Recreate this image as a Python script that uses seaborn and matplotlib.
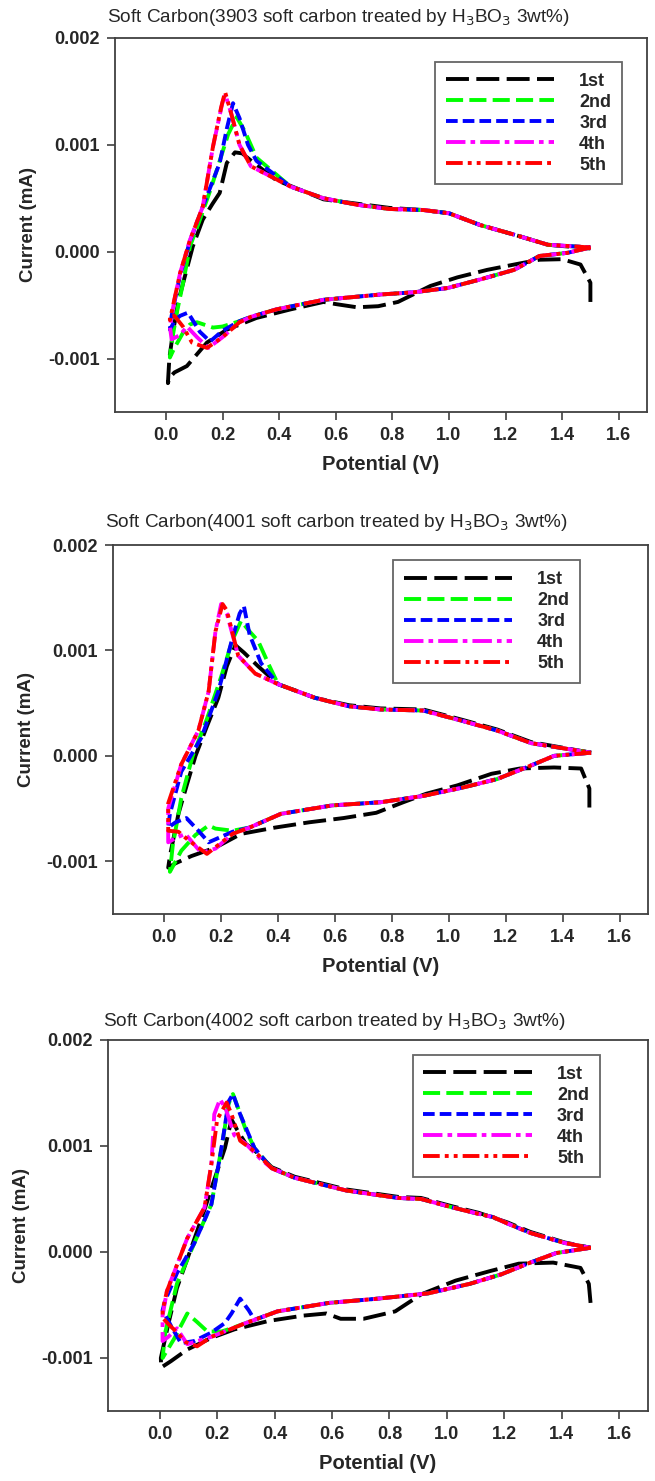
import matplotlib
matplotlib.use("Agg")
import matplotlib.pyplot as plt
import pandas as pd
import seaborn as sns

# potential (V) and current (x 1e-3 mA)
cycles = ["1st", "2nd", "3rd", "4th", "5th"]
samples = ["3903", "4001", "4002"]

# ---------- 3903 ----------
head_v_3903 = [1.50, 1.42, 1.32, 1.23, 1.11, 0.995, 0.875, 0.76, 0.557, 0.39, 0.30]
head_i_3903 = [0.04, -0.01, -0.04, -0.17, -0.26, -0.34, -0.38, -0.40, -0.45, -0.54, -0.61]
tail_v_3903 = [0.44, 0.557, 0.675, 0.79, 0.91, 1.0, 1.11, 1.23, 1.35, 1.50]
tail_i_3903 = [0.61, 0.50, 0.44, 0.40, 0.39, 0.36, 0.25, 0.16, 0.065, 0.04]
v_3903_1st = [1.50, 1.50, 1.465, 1.40, 1.32, 1.25, 1.135, 1.03, 0.935, 0.82, 0.75, 0.675, 0.60, 0.557,
              0.44, 0.32, 0.215, 0.145, 0.074, 0.03, 0.012, 0.007,
              0.012, 0.025, 0.045, 0.07, 0.095, 0.13, 0.165, 0.19, 0.215, 0.244, 0.27, 0.297, 0.39,
              0.557, 0.79, 0.91, 1.0, 1.11, 1.23, 1.35, 1.50]
i_3903_1st = [-0.47, -0.29, -0.12, -0.07, -0.075, -0.11, -0.17, -0.24, -0.32, -0.47, -0.51, -0.52, -0.49, -0.47,
              -0.54, -0.62, -0.73, -0.85, -1.07, -1.13, -1.18, -1.23,
              -1.0, -0.75, -0.45, -0.2, 0.05, 0.3, 0.45, 0.55, 0.83, 0.93, 0.92, 0.86, 0.67,
              0.49, 0.41, 0.39, 0.36, 0.25, 0.16, 0.065, 0.03]
low_v_3903_2nd = [0.26, 0.20, 0.166, 0.11, 0.085, 0.06, 0.03, 0.014,
                  0.02, 0.04, 0.06, 0.085, 0.12, 0.16, 0.19, 0.22, 0.25, 0.28, 0.32]
low_i_3903_2nd = [-0.65, -0.70, -0.71, -0.66, -0.68, -0.76, -0.90, -0.99,
                  -0.85, -0.55, -0.30, 0.05, 0.30, 0.60, 0.85, 1.10, 1.26, 1.12, 0.88]
low_v_3903_3rd = [0.26, 0.20, 0.156, 0.12, 0.078, 0.05, 0.032, 0.014,
                  0.02, 0.05, 0.085, 0.13, 0.19, 0.215, 0.237, 0.26, 0.29, 0.32]
low_i_3903_3rd = [-0.65, -0.74, -0.84, -0.75, -0.57, -0.60, -0.64, -0.73,
                  -0.60, -0.22, 0.10, 0.42, 0.83, 1.15, 1.39, 1.25, 1.00, 0.85]
low_v_3903_4th = [0.26, 0.20, 0.15, 0.11, 0.074, 0.05, 0.02,
                  0.014, 0.03, 0.05, 0.085, 0.13, 0.166, 0.20, 0.21, 0.23, 0.26, 0.30]
low_i_3903_4th = [-0.66, -0.80, -0.90, -0.80, -0.70, -0.78, -0.82,
                  -0.70, -0.45, -0.20, 0.11, 0.42, 0.98, 1.40, 1.47, 1.30, 1.00, 0.80]
low_v_3903_5th = [0.26, 0.20, 0.145, 0.092, 0.06, 0.03, 0.014,
                  0.014, 0.05, 0.085, 0.13, 0.166, 0.195, 0.209, 0.23, 0.26, 0.30]
low_i_3903_5th = [-0.66, -0.80, -0.90, -0.85, -0.70, -0.60, -0.60,
                  -0.64, -0.20, 0.11, 0.42, 0.98, 1.35, 1.495, 1.30, 1.00, 0.80]

# ---------- 4001 ----------
head_v_4001 = [1.50, 1.37, 1.29, 1.17, 1.05, 0.91, 0.76, 0.59, 0.41, 0.30]
head_i_4001 = [0.03, 0.0, -0.09, -0.22, -0.30, -0.38, -0.44, -0.47, -0.55, -0.68]
tail_v_4001 = [0.40, 0.53, 0.65, 0.76, 0.91, 1.05, 1.17, 1.29, 1.50]
tail_i_4001 = [0.68, 0.55, 0.47, 0.44, 0.43, 0.33, 0.24, 0.12, 0.03]
v_4001_1st = [1.494, 1.494, 1.465, 1.37, 1.25, 1.15, 1.03, 0.92, 0.84, 0.745, 0.63, 0.51, 0.39, 0.27,
              0.18, 0.096, 0.039, 0.014,
              0.02, 0.05, 0.08, 0.11, 0.15, 0.19, 0.22, 0.25, 0.28, 0.33, 0.40, 0.53, 0.65, 0.76,
              0.91, 1.05, 1.17, 1.29, 1.50]
i_4001_1st = [-0.49, -0.31, -0.12, -0.11, -0.12, -0.17, -0.28, -0.36, -0.44, -0.54, -0.59, -0.63, -0.68, -0.74,
              -0.87, -0.95, -1.02, -1.06,
              -0.95, -0.55, -0.27, 0.0, 0.28, 0.55, 0.85, 1.05, 0.98, 0.85, 0.68, 0.55, 0.48, 0.45,
              0.44, 0.34, 0.25, 0.13, 0.03]
low_v_4001_2nd = [0.24, 0.18, 0.156, 0.11, 0.06, 0.02,
                  0.03, 0.06, 0.10, 0.15, 0.20, 0.24, 0.27, 0.30, 0.33, 0.37]
low_i_4001_2nd = [-0.71, -0.69, -0.66, -0.75, -0.90, -1.10,
                  -0.85, -0.40, 0.0, 0.35, 0.75, 1.10, 1.28, 1.18, 1.09, 0.85]
low_v_4001_3rd = [0.24, 0.156, 0.12, 0.078, 0.04, 0.014,
                  0.02, 0.06, 0.13, 0.19, 0.237, 0.265, 0.28, 0.30, 0.34]
low_i_4001_3rd = [-0.72, -0.82, -0.71, -0.59, -0.63, -0.68,
                  -0.55, -0.15, 0.17, 0.61, 1.09, 1.35, 1.42, 1.15, 0.88]
low_v_4001_4th = [0.24, 0.18, 0.13, 0.074, 0.04, 0.014,
                  0.014, 0.06, 0.12, 0.156, 0.18, 0.20, 0.22, 0.26, 0.32]
low_i_4001_4th = [-0.74, -0.88, -0.92, -0.74, -0.78, -0.82,
                  -0.50, -0.08, 0.24, 0.61, 1.18, 1.44, 1.35, 0.95, 0.78]
low_v_4001_5th = [0.24, 0.15, 0.085, 0.05, 0.014,
                  0.014, 0.06, 0.12, 0.156, 0.18, 0.205, 0.22, 0.26, 0.32]
low_i_4001_5th = [-0.74, -0.93, -0.80, -0.72, -0.71,
                  -0.45, -0.08, 0.24, 0.61, 1.18, 1.44, 1.38, 0.95, 0.78]

# ---------- 4002 ----------
head_v_4002 = [1.50, 1.38, 1.29, 1.19, 1.08, 0.935, 0.76, 0.59, 0.41]
head_i_4002 = [0.04, -0.01, -0.10, -0.21, -0.30, -0.39, -0.44, -0.48, -0.56]
tail_v_4002 = [0.39, 0.47, 0.65, 0.83, 0.91, 1.02, 1.11, 1.16, 1.21, 1.29, 1.41, 1.50]
tail_i_4002 = [0.79, 0.70, 0.58, 0.51, 0.50, 0.42, 0.36, 0.33, 0.27, 0.18, 0.085, 0.04]
v_4002_1st = [1.50, 1.494, 1.465, 1.37, 1.25, 1.15, 1.03, 0.91, 0.82, 0.71, 0.63, 0.58, 0.50, 0.38,
              0.26, 0.18, 0.096, 0.039, 0.005,
              0.004, 0.03, 0.06, 0.11, 0.15, 0.18, 0.227, 0.25, 0.27, 0.30, 0.33, 0.39, 0.47, 0.65,
              0.83, 0.91, 1.02, 1.11, 1.21, 1.29, 1.41, 1.50]
i_4002_1st = [-0.48, -0.30, -0.15, -0.10, -0.11, -0.18, -0.27, -0.40, -0.56, -0.63, -0.63, -0.58, -0.60, -0.65,
              -0.73, -0.81, -0.92, -1.03, -1.09,
              -1.0, -0.68, -0.34, 0.04, 0.35, 0.60, 0.98, 1.25, 1.15, 1.02, 0.96, 0.80, 0.71, 0.59,
              0.52, 0.51, 0.43, 0.37, 0.28, 0.19, 0.09, 0.04]
low_v_4002_2nd = [0.30, 0.25, 0.215, 0.166, 0.13, 0.096, 0.05, 0.01,
                  0.02, 0.06, 0.12, 0.18, 0.215, 0.24, 0.255, 0.27, 0.30, 0.33]
low_i_4002_2nd = [-0.67, -0.72, -0.75, -0.75, -0.66, -0.58, -0.82, -1.0,
                  -0.75, -0.30, 0.08, 0.45, 0.98, 1.40, 1.49, 1.38, 1.15, 0.98]
low_v_4002_3rd = [0.33, 0.31, 0.28, 0.25, 0.227, 0.18, 0.12, 0.074, 0.04, 0.01,
                  0.02, 0.06, 0.12, 0.18, 0.215, 0.24, 0.255, 0.28, 0.33]
low_i_4002_3rd = [-0.64, -0.55, -0.44, -0.58, -0.67, -0.76, -0.84, -0.86, -0.70, -0.55,
                  -0.45, -0.20, 0.08, 0.45, 0.98, 1.42, 1.49, 1.30, 0.98]
low_v_4002_4th = [0.30, 0.18, 0.096, 0.06, 0.03, 0.01,
                  0.01, 0.025, 0.096, 0.156, 0.18, 0.19, 0.21, 0.23, 0.26, 0.30, 0.35]
low_i_4002_4th = [-0.67, -0.80, -0.87, -0.72, -0.80, -0.84,
                  -0.60, -0.37, 0.13, 0.42, 0.83, 1.30, 1.44, 1.35, 1.10, 1.02, 0.88]
low_v_4002_5th = [0.30, 0.18, 0.13, 0.09, 0.057, 0.03, 0.01,
                  0.01, 0.025, 0.096, 0.156, 0.18, 0.20, 0.233, 0.25, 0.28, 0.33]
low_i_4002_5th = [-0.67, -0.80, -0.89, -0.85, -0.75, -0.68, -0.62,
                  -0.55, -0.37, 0.13, 0.42, 0.83, 1.25, 1.41, 1.30, 1.05, 0.95]

colors = ["black", "#00ff00", "#0000ff", "#ff00ff", "#ff0000"]
# dash patterns in units of line width
dash_styles = [(0, (5.9, 1.9)), (0, (4.4, 1.6)), (0, (3.0, 1.3)),
               (0, (5.0, 1.3, 1.2, 1.3)), (0, (4.3, 1.3, 1.0, 1.3, 1.0, 1.3))]


def build_frame(tag):
    g = globals()
    rows = []
    for c in cycles:
        if c == "1st":
            v = g[f"v_{tag}_1st"]
            cur = g[f"i_{tag}_1st"]
        else:
            v = g[f"head_v_{tag}"] + g[f"low_v_{tag}_{c}"] + g[f"tail_v_{tag}"]
            cur = g[f"head_i_{tag}"] + g[f"low_i_{tag}_{c}"] + g[f"tail_i_{tag}"]
        for k, (a, b) in enumerate(zip(v, cur)):
            rows.append({"cycle": c, "order": k, "V": a, "I": b * 1e-3})
    return pd.DataFrame(rows)


sns.set_style("white")
plt.rcParams["font.family"] = ["Liberation Sans", "DejaVu Sans"]
plt.rcParams["mathtext.fontset"] = "custom"
plt.rcParams["mathtext.rm"] = "Liberation Sans Narrow"
plt.rcParams["mathtext.it"] = "Liberation Sans Narrow"

W, H = 655, 1481
fig = plt.figure(figsize=(W / 100, H / 100), dpi=100)

# axes boxes in pixels: left, top, right, bottom
boxes = [(115, 38, 647, 412), (113, 545, 648, 914), (108, 1040, 648, 1411)]
title_pos = [(107, 18), (105, 522), (103, 1021)]
leg_anchor = [(0.953, 0.936), (0.873, 0.959), (0.911, 0.960)]

spine_col = "#404040"

for n, tag in enumerate(samples):
    l, t, r, b = boxes[n]
    ax = fig.add_axes([l / W, 1 - b / H, (r - l) / W, (b - t) / H])
    df = build_frame(tag)
    for k, c in enumerate(cycles):
        sub = df[df["cycle"] == c]
        sns.lineplot(data=sub, x="V", y="I", sort=False, estimator=None, color=colors[k],
                     linestyle=dash_styles[k], lw=2.8, label=c, ax=ax)

    ax.set_xlim(-0.18, 1.70)
    ax.set_ylim(-0.0015, 0.002)
    ax.set_xticks([0.0, 0.2, 0.4, 0.6, 0.8, 1.0, 1.2, 1.4, 1.6])
    ax.set_yticks([-0.001, 0.0, 0.001, 0.002])
    ax.xaxis.set_major_formatter(matplotlib.ticker.FormatStrFormatter("%.1f"))
    ax.yaxis.set_major_formatter(matplotlib.ticker.FormatStrFormatter("%.3f"))
    ax.tick_params(direction="out", length=6, width=1.2, color=spine_col, pad=5,
                   labelsize=13, bottom=True, left=True, top=False, right=False)
    for lab in ax.get_xticklabels() + ax.get_yticklabels():
        lab.set_fontweight("bold")
    for s in ax.spines.values():
        s.set_color(spine_col)
        s.set_linewidth(1.3)

    ax.set_xlabel("Potential (V)", fontsize=14.5, fontweight="bold", labelpad=8)
    ax.set_ylabel("Current (mA)", fontsize=13.5, fontweight="bold", labelpad=8)

    tx, ty = title_pos[n]
    fig.text(tx / W, 1 - ty / H,
             f"Soft Carbon({tag} soft carbon treated by H$_3$BO$_3$ 3wt%)",
             fontsize=13.7, family=["Liberation Sans Narrow", "Liberation Sans"],
             ha="left", va="center")

    leg = ax.legend(loc="upper right", bbox_to_anchor=leg_anchor[n], borderaxespad=0,
                    handlelength=6.0, handletextpad=1.4, labelspacing=0.22, borderpad=0.6,
                    fancybox=False, frameon=True, prop={"weight": "bold", "size": 13})
    leg.get_frame().set_edgecolor(spine_col)
    leg.get_frame().set_linewidth(1.3)

fig.savefig("out.png", dpi=100)
